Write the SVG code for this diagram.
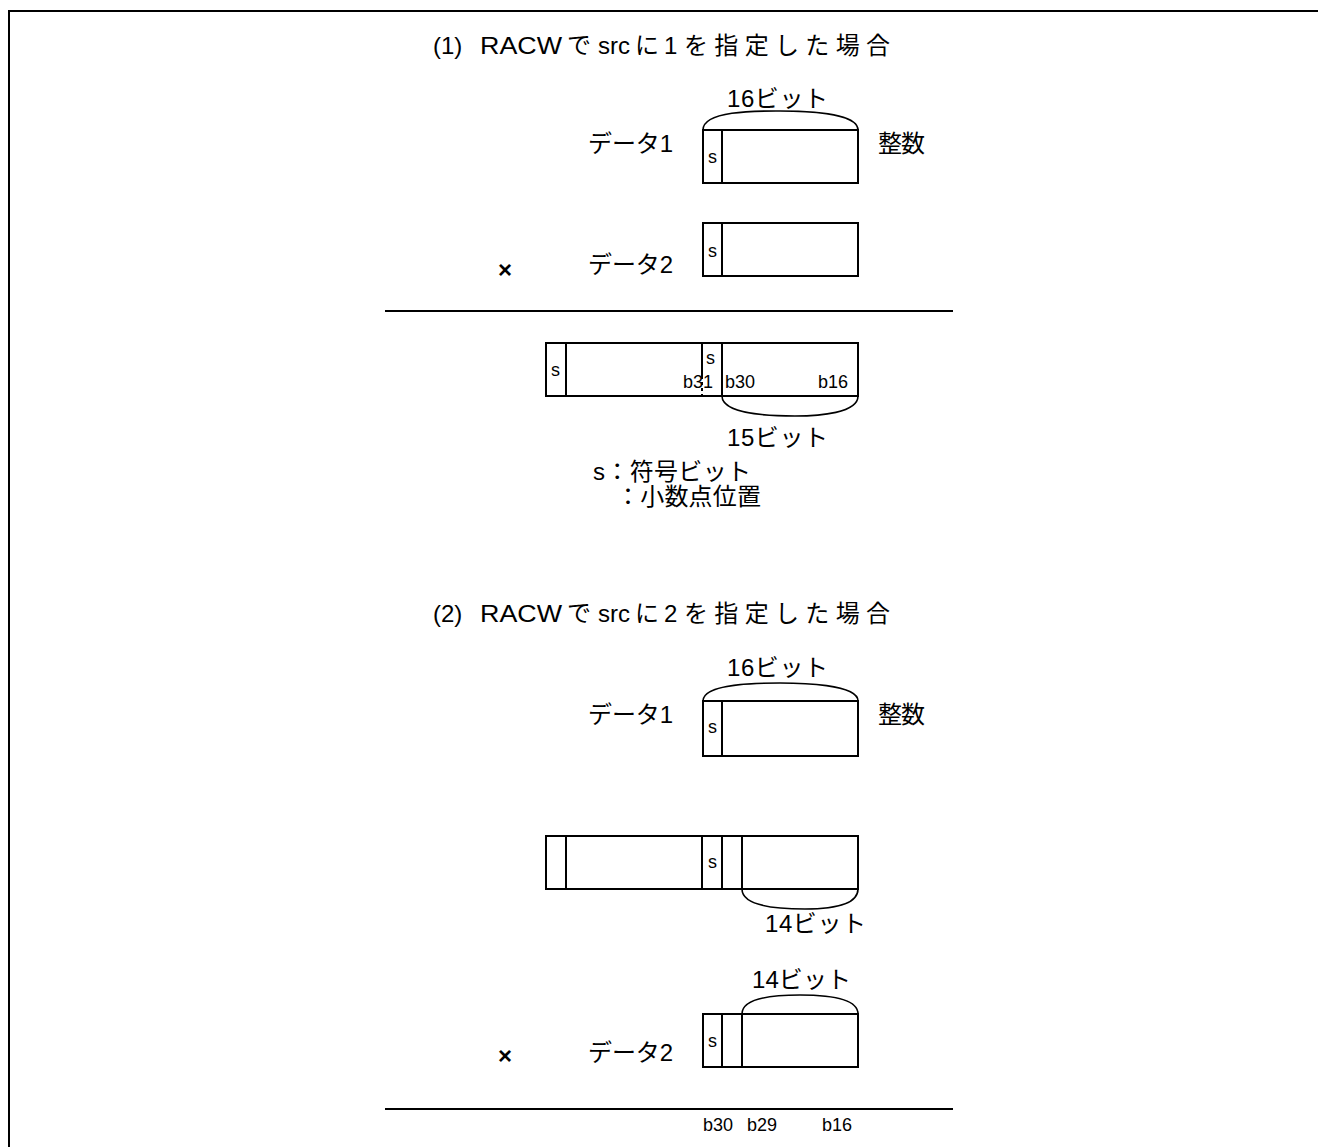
<svg xmlns="http://www.w3.org/2000/svg" width="1318" height="1147" viewBox="0 0 1318 1147">
<style>
text{font-family:"Liberation Sans","Noto Sans CJK JP",sans-serif;fill:#000}
.t{font-size:24px}
.m{font-size:24px}
.s{font-size:18px}
.b{font-size:18px}
.x{font-size:24px;font-weight:bold}
.box{fill:none;stroke:#000;stroke-width:2}
.ln{stroke:#000;stroke-width:2;fill:none}
.arc{stroke:#000;stroke-width:1.6;fill:none}
</style>
<rect width="1318" height="1147" fill="#fff"/>
<g id="frame">
<line class="ln" x1="8" y1="11" x2="1318" y2="11" stroke-width="2.5"/>
<line class="ln" x1="9" y1="11" x2="9" y2="1147" stroke-width="2.5"/>
</g>
<g id="sec1-title">
<text class="t" x="433" y="54">(1)</text>
<text class="t" x="480" y="54" textLength="82" lengthAdjust="spacingAndGlyphs">RACW</text>
<text class="t" x="567" y="54">で</text>
<text class="t" x="598" y="54">src</text>
<text class="t" x="635" y="54">に</text>
<text class="t" x="664" y="54">1</text>
<text class="t" x="684" y="54" textLength="206" lengthAdjust="spacing">を指定した場合</text>
</g>
<g id="sec1-data1">
<text class="m" x="727" y="107" textLength="101" lengthAdjust="spacing">16ビット</text>
<path class="arc" d="M703,130 C703,110 760,111 780,111 C800,111 858,112 858,130"/>
<rect class="box" x="703" y="130" width="155" height="53"/>
<line class="ln" x1="722" y1="130" x2="722" y2="183"/>
<text class="s" x="708" y="163">s</text>
<text class="m" x="588" y="152" textLength="85" lengthAdjust="spacing">データ1</text>
<text class="m" x="878" y="152" textLength="47" lengthAdjust="spacing">整数</text>
</g>
<g id="sec1-data2">
<rect class="box" x="703" y="223" width="155" height="53"/>
<line class="ln" x1="722" y1="223" x2="722" y2="276"/>
<text class="s" x="708" y="257">s</text>
<text class="m" x="588" y="273" textLength="85" lengthAdjust="spacing">データ2</text>
<text class="x" x="498" y="278">×</text>
</g>
<g id="sec1-rule"><line class="ln" x1="385" y1="311" x2="953" y2="311"/></g>
<g id="sec1-result">
<rect class="box" x="546" y="343" width="312" height="53"/>
<line class="ln" x1="566" y1="343" x2="566" y2="396"/>
<line class="ln" x1="702" y1="343" x2="702" y2="376"/>
<line class="ln" x1="702" y1="376" x2="702" y2="396" stroke-dasharray="3,3"/>
<line class="ln" x1="722" y1="343" x2="722" y2="396"/>
<text class="s" x="551" y="376">s</text>
<text class="s" x="706" y="364">s</text>
<text class="b" x="683" y="388">b31</text>
<text class="b" x="725" y="388">b30</text>
<text class="b" x="818" y="388">b16</text>
<path class="arc" d="M722,396 C722,414 770,416 795,416 C820,416 858,413 858,396"/>
<text class="m" x="727" y="446" textLength="101" lengthAdjust="spacing">15ビット</text>
<text class="m" x="593" y="480" textLength="158" lengthAdjust="spacing">s：符号ビット</text>
<text class="m" x="616" y="505" textLength="145" lengthAdjust="spacing">：小数点位置</text>
</g>
<g id="sec2-title">
<text class="t" x="433" y="622">(2)</text>
<text class="t" x="480" y="622" textLength="82" lengthAdjust="spacingAndGlyphs">RACW</text>
<text class="t" x="567" y="622">で</text>
<text class="t" x="598" y="622">src</text>
<text class="t" x="635" y="622">に</text>
<text class="t" x="664" y="622">2</text>
<text class="t" x="684" y="622" textLength="206" lengthAdjust="spacing">を指定した場合</text>
</g>
<g id="sec2-data1">
<text class="m" x="727" y="676" textLength="101" lengthAdjust="spacing">16ビット</text>
<path class="arc" d="M703,701 C703,683 760,683 780,683 C800,683 858,684 858,701"/>
<rect class="box" x="703" y="701" width="155" height="55"/>
<line class="ln" x1="722" y1="701" x2="722" y2="756"/>
<text class="s" x="708" y="733">s</text>
<text class="m" x="588" y="723" textLength="85" lengthAdjust="spacing">データ1</text>
<text class="m" x="878" y="723" textLength="47" lengthAdjust="spacing">整数</text>
</g>
<g id="sec2-mid">
<rect class="box" x="546" y="836" width="312" height="53"/>
<line class="ln" x1="566" y1="836" x2="566" y2="889"/>
<line class="ln" x1="702" y1="836" x2="702" y2="889"/>
<line class="ln" x1="722" y1="836" x2="722" y2="889"/>
<line class="ln" x1="742" y1="836" x2="742" y2="889"/>
<text class="s" x="708" y="868">s</text>
<path class="arc" d="M742,889 C742,907 780,909 805,909 C830,909 858,906 858,889"/>
<text class="m" x="765" y="932" textLength="101" lengthAdjust="spacing">14ビット</text>
</g>
<g id="sec2-data2">
<text class="m" x="752" y="988" textLength="99" lengthAdjust="spacing">14ビット</text>
<path class="arc" d="M742,1014 C742,996 780,995 800,995 C820,995 858,996 858,1014"/>
<rect class="box" x="703" y="1014" width="155" height="53"/>
<line class="ln" x1="722" y1="1014" x2="722" y2="1067"/>
<line class="ln" x1="742" y1="1014" x2="742" y2="1067"/>
<text class="s" x="708" y="1047">s</text>
<text class="m" x="588" y="1061" textLength="85" lengthAdjust="spacing">データ2</text>
<text class="x" x="498" y="1064">×</text>
</g>
<g id="sec2-rule">
<line class="ln" x1="385" y1="1109" x2="953" y2="1109"/>
<text class="b" x="703" y="1131">b30</text>
<text class="b" x="747" y="1131">b29</text>
<text class="b" x="822" y="1131">b16</text>
</g>
</svg>
